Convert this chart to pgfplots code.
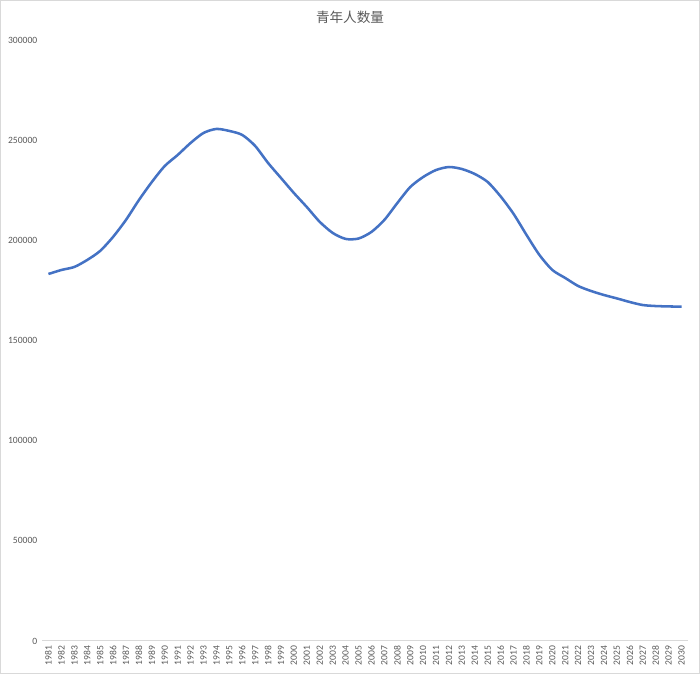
\documentclass[border=0pt]{standalone}
\usepackage{fontspec}
\setmainfont{Carlito}
\newfontfamily\cjk{Noto Sans CJK SC}
\usepackage{pgfplots}
\pgfplotsset{compat=1.18}
\definecolor{lineblue}{HTML}{4472C4}
\definecolor{txt}{HTML}{595959}
\definecolor{axl}{HTML}{D9D9D9}
\begin{document}
\begin{tikzpicture}
\useasboundingbox (0,0) rectangle (525pt,505.5pt);
\draw[axl, line width=0.75pt] (0.375pt,0.375pt) rectangle (524.625pt,505.125pt);
\node[font=\cjk\fontsize{10.2}{12}\selectfont, text=txt] at (262.5pt,492.75pt) {青年人数量};
\begin{axis}[
  at={(31.5pt,24.75pt)}, anchor=south west,
  scale only axis, width=484.5pt, height=450.75pt,
  xmin=1980.5, xmax=2030.5, ymin=0, ymax=300000,
  xtick={1981,...,2030},
  xticklabels={1981,1982,1983,1984,1985,1986,1987,1988,1989,1990,1991,1992,1993,1994,1995,1996,1997,1998,1999,2000,2001,2002,2003,2004,2005,2006,2007,2008,2009,2010,2011,2012,2013,2014,2015,2016,2017,2018,2019,2020,2021,2022,2023,2024,2025,2026,2027,2028,2029,2030},
  ytick={0,50000,100000,150000,200000,250000,300000},
  yticklabels={0,50000,100000,150000,200000,250000,300000},
  scaled y ticks=false,
  axis x line*=bottom, axis y line*=left,
  x axis line style={axl, line width=0.75pt},
  y axis line style={draw=none},
  major tick length=0pt,
  tick style={draw=none},
  xticklabel style={rotate=90, anchor=east, font=\fontsize{7.2}{8}\selectfont, text=txt},
  yticklabel style={anchor=east, font=\fontsize{7.2}{8}\selectfont, text=txt},
  clip=false,
]
\addplot[lineblue, line width=1.9pt, smooth, tension=0.45] coordinates {
(1981,183200) (1982,185200) (1983,186700) (1984,190200) (1985,194700)
(1986,201700) (1987,210200) (1988,220100) (1989,229100) (1990,237100)
(1991,242600) (1992,248600) (1993,253600) (1994,255600) (1995,254600)
(1996,252600) (1997,247100) (1998,238600) (1999,231100) (2000,223600)
(2001,216600) (2002,209200) (2003,203700) (2004,200700) (2005,200900)
(2006,204200) (2007,210200) (2008,218600) (2009,226600) (2010,231600)
(2011,235100) (2012,236600) (2013,235600) (2014,233100) (2015,229100)
(2016,221900) (2017,213200) (2018,202700) (2019,192700) (2020,185200)
(2021,181200) (2022,177200) (2023,174700) (2024,172700) (2025,171000)
(2026,169200) (2027,167700) (2028,167200) (2029,167000) (2030,166900)
};
\end{axis}
\end{tikzpicture}
\end{document}
